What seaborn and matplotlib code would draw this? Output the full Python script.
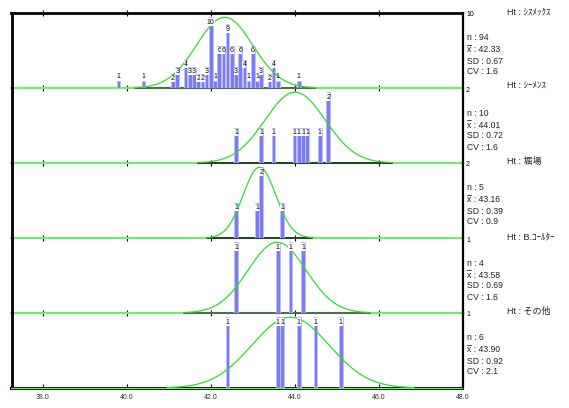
import numpy as np
import pandas as pd
import matplotlib
matplotlib.use("Agg")
import matplotlib.pyplot as plt
from matplotlib.lines import Line2D
import seaborn as sns

# ---------------- data ----------------
analyzers = ["ｼｽﾒｯｸｽ", "ｼｰﾒﾝｽ", "堀場", "B.ｺｰﾙﾀｰ", "その他"]
n_labels = ["94", "10", "5", "4", "6"]
mean_labels = ["42.33", "44.01", "43.16", "43.58", "43.90"]
sd_labels = ["0.67", "0.72", "0.39", "0.69", "0.92"]
cv_labels = ["1.6", "1.6", "0.9", "1.6", "2.1"]
means = [42.33, 44.01, 43.16, 43.58, 43.90]
sds = [0.67, 0.72, 0.39, 0.69, 0.92]
ymax_counts = [10, 2, 2, 1, 1]

sysmex_x = [39.8, 40.4, 41.1, 41.2, 41.4, 41.5, 41.6, 41.7, 41.8, 41.9, 42.0, 42.1,
            42.2, 42.3, 42.4, 42.5, 42.6, 42.7, 42.8, 42.9, 43.0, 43.1, 43.2, 43.4,
            43.5, 43.6, 44.1]
sysmex_n = [1, 1, 2, 3, 4, 3, 3, 2, 2, 3, 10, 1,
            6, 6, 9, 6, 3, 6, 4, 1, 6, 1, 3, 2,
            4, 1, 1]
siemens_x = [42.6, 43.2, 43.5, 44.0, 44.1, 44.2, 44.3, 44.6, 44.8]
siemens_n = [1, 1, 1, 1, 1, 1, 1, 1, 2]
horiba_x = [42.6, 43.1, 43.2, 43.7]
horiba_n = [1, 1, 2, 1]
coulter_x = [42.6, 43.6, 43.9, 44.2]
coulter_n = [1, 1, 1, 1]
other_x = [42.4, 43.6, 43.7, 44.1, 44.5, 45.1]
other_n = [1, 1, 1, 1, 1, 1]

panel_x = [sysmex_x, siemens_x, horiba_x, coulter_x, other_x]
panel_n = [sysmex_n, siemens_n, horiba_n, coulter_n, other_n]

x_ticks = [38.0, 40.0, 42.0, 44.0, 46.0, 48.0]
x_tick_labels = ["38.0", "40.0", "42.0", "44.0", "46.0", "48.0"]
x_min, x_max = 37.25, 48.0

# ---------------- style ----------------
sns.set_style("white")
plt.rcParams["font.family"] = ["Liberation Sans", "Noto Sans CJK JP", "DejaVu Sans"]

W, H = 569, 408
fig = plt.figure(figsize=(W / 100, H / 100), dpi=100)

left_px, right_px = 11.5, 462.5
top_px, panel_h = 13.0, 75.0
ytop_factor = 1.06

bar_face = "#7C7CF2"
bar_edge = "#BEBEFF"
curve_col = "#2EDC2E"
tail_col = "#6CF06C"

for i in range(5):
    T = top_px + panel_h * i
    ax = fig.add_axes([left_px / W, 1 - (T + panel_h) / H,
                       (right_px - left_px) / W, panel_h / H])
    ymax = ymax_counts[i]
    df = pd.DataFrame({"value": panel_x[i], "count": panel_n[i]})
    diffs = np.diff(np.sort(np.array(panel_x[i])))
    min_d = diffs.min() if len(diffs) else 1.0
    sns.barplot(data=df, x="value", y="count", native_scale=True,
                width=0.085 / min_d, color=bar_face, saturation=1,
                edgecolor=bar_edge, linewidth=0.7, errorbar=None, ax=ax, zorder=3)

    px_per_unit = panel_h / (ymax * ytop_factor)
    for patch, c in zip(ax.containers[0], panel_n[i]):
        xc = patch.get_x() + patch.get_width() / 2
        h = patch.get_height()
        if h * px_per_unit < 10:
            ax.annotate(str(c), (xc, h), xytext=(0, 0.6), textcoords="offset points",
                        ha="center", va="bottom", fontsize=5, color="black", zorder=6,
                        annotation_clip=False)
        else:
            ax.annotate(str(c), (xc, h), xytext=(0, -1.0), textcoords="offset points",
                        ha="center", va="top", fontsize=5, color="black", zorder=6,
                        annotation_clip=False,
                        bbox=dict(boxstyle="square,pad=0.02", fc="white", ec="none"))

    # baseline: light green tails, dark segment under the curve
    mu, sd = means[i], sds[i]
    lo, hi = mu - 3.2 * sd, mu + 3.2 * sd
    ax.plot([x_min, x_max], [0, 0], color=tail_col, lw=1.6, zorder=2, clip_on=False)
    ax.plot([lo, hi], [0, 0], color="#202020" if i in (1, 2) else "#505050",
            lw=1.2, zorder=2.5, clip_on=False)

    xs = np.linspace(lo, hi, 300)
    ys = ymax * np.exp(-0.5 * ((xs - mu) / sd) ** 2)
    sns.lineplot(x=xs, y=ys, color=curve_col, lw=0.9, ax=ax, zorder=4)

    ax.set_xlim(x_min, x_max)
    ax.set_ylim(0, ymax * ytop_factor)
    ax.set_xlabel("")
    ax.set_ylabel("")
    ax.set_yticks([])
    ax.patch.set_alpha(0)

    for s in ["left", "right", "top", "bottom"]:
        ax.spines[s].set_visible(False)
    ax.spines["left"].set_visible(True)
    ax.spines["left"].set_color("black")
    ax.spines["left"].set_linewidth(2)
    ax.spines["right"].set_visible(True)
    ax.spines["right"].set_color("black")
    ax.spines["right"].set_linewidth(1.6)

    ax.set_xticks(x_ticks[:-1] if i < 4 else x_ticks)
    if i == 0:
        ax.spines["top"].set_visible(True)
        ax.spines["top"].set_color("black")
        ax.spines["top"].set_linewidth(2)
        ax.tick_params(axis="x", which="both", top=True, bottom=True,
                       direction="inout", length=5, width=0.8, color="black",
                       labelbottom=False)
    elif i < 4:
        ax.tick_params(axis="x", bottom=True, direction="inout", length=5,
                       width=0.8, color="black", labelbottom=False)
    else:
        ax.spines["bottom"].set_visible(True)
        ax.spines["bottom"].set_color("black")
        ax.spines["bottom"].set_linewidth(2.2)
        ax.tick_params(axis="x", bottom=True, direction="in", length=3,
                       width=0.8, color="black", labelbottom=True,
                       labelsize=5, labelcolor="#333333", pad=4.5)
        ax.set_xticklabels(x_tick_labels)
        ax.plot([x_min, x_max], [0, 0], color=tail_col, lw=1.0, zorder=5,
                clip_on=False)

    # right-side annotations
    fig.text(466 / W, 1 - (T + 2) / H, str(ymax), fontsize=5, ha="left",
             va="center", color="black")
    fig.text(507 / W, 1 - (T - 1.5) / H, "Ht : " + analyzers[i], fontsize=6.5,
             ha="left", va="center", color="#222222")
    stats = [("n : " + n_labels[i], 25), ("x : " + mean_labels[i], 37),
             ("SD : " + sd_labels[i], 48), ("CV : " + cv_labels[i], 59)]
    for txt, dy in stats:
        fig.text(467 / W, 1 - (T + dy) / H, txt, fontsize=6.2, ha="left",
                 va="center", color="#222222")
    # bar over the x of the mean label
    fig.add_artist(Line2D([467.3 / W, 470.8 / W], [1 - (T + 31.5) / H] * 2,
                          color="#444444", lw=0.7))

fig.savefig("out.png", dpi=100)
